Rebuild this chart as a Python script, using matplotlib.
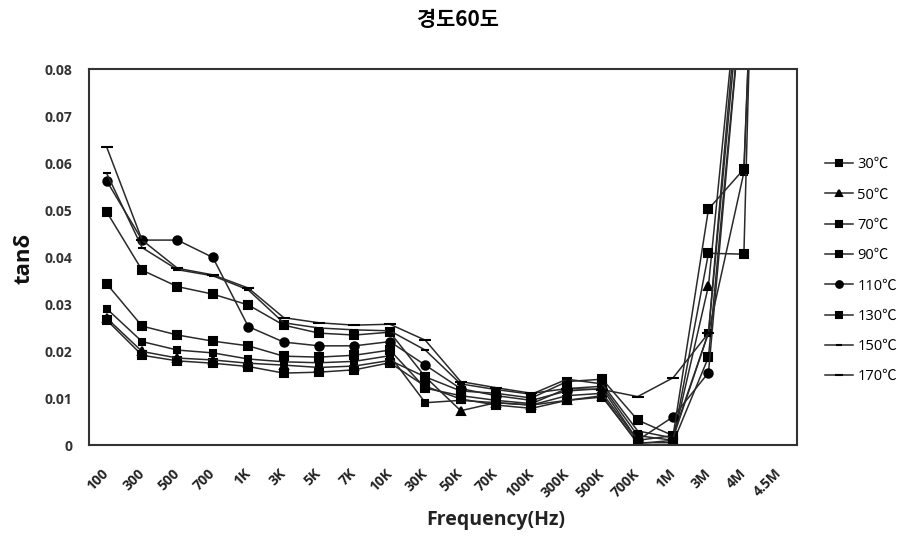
import matplotlib
matplotlib.use("Agg")
import matplotlib.pyplot as plt

plt.rcParams['font.family'] = ['Open Sans', 'Noto Sans CJK KR', 'DejaVu Sans']

freqs = ['100', '300', '500', '700', '1K', '3K', '5K', '7K', '10K', '30K',
         '50K', '70K', '100K', '300K', '500K', '700K', '1M', '3M', '4M', '4.5M']

# tan delta, one list per temperature
t30 = [0.0266, 0.0191, 0.0179, 0.0174, 0.0167, 0.0153, 0.0155, 0.0160, 0.0175, 0.0125,
       0.0098, 0.0085, 0.0078, 0.0095, 0.0102, 0.0005, 0.0005, 0.0187, 0.100, 0.30]
t50 = [0.0270, 0.0199, 0.0185, 0.0181, 0.0174, 0.0170, 0.0165, 0.0168, 0.0180, 0.0145,
       0.0073, 0.0090, 0.0085, 0.0095, 0.0105, 0.0003, 0.0010, 0.0339, 0.110, 0.30]
t70 = [0.0290, 0.0220, 0.0202, 0.0196, 0.0183, 0.0177, 0.0175, 0.0178, 0.0190, 0.0090,
       0.0095, 0.0090, 0.0085, 0.0105, 0.0110, 0.0010, 0.0020, 0.0239, 0.0580, 0.25]
t90 = [0.0343, 0.0253, 0.0234, 0.0221, 0.0211, 0.0189, 0.0187, 0.0191, 0.0202, 0.0121,
       0.0105, 0.0095, 0.0088, 0.0120, 0.0125, 0.0020, 0.0010, 0.0408, 0.0406, 0.32]
t110 = [0.0562, 0.0436, 0.0436, 0.0399, 0.0252, 0.0219, 0.0211, 0.0211, 0.0220, 0.0170,
        0.0120, 0.0105, 0.0095, 0.0115, 0.0120, 0.0010, 0.0060, 0.0154, 0.100, 0.30]
t130 = [0.0496, 0.0372, 0.0337, 0.0321, 0.0298, 0.0255, 0.0238, 0.0234, 0.0240, 0.0145,
        0.0115, 0.0110, 0.0100, 0.0135, 0.0140, 0.0053, 0.0020, 0.0502, 0.0587, 0.25]
t150 = [0.0578, 0.0420, 0.0373, 0.0360, 0.0330, 0.0260, 0.0249, 0.0245, 0.0243, 0.0202,
        0.0130, 0.0118, 0.0108, 0.0140, 0.0130, 0.0030, 0.0015, 0.0239, 0.110, 0.30]
t170 = [0.0634, 0.0436, 0.0376, 0.0362, 0.0334, 0.0271, 0.0260, 0.0255, 0.0257, 0.0223,
        0.0135, 0.0122, 0.0110, 0.0120, 0.0118, 0.0103, 0.0143, 0.0238, 0.105, 0.30]

series = [('30℃', t30, 's', 6), ('50℃', t50, '^', 6), ('70℃', t70, 's', 5),
          ('90℃', t90, 's', 6), ('110℃', t110, 'o', 6), ('130℃', t130, 's', 6),
          ('150℃', t150, '_', 6), ('170℃', t170, '_', 8)]

fig = plt.figure(figsize=(8.97, 5.37), dpi=100)
ax = fig.add_axes([0.0992, 0.1713, 0.7893, 0.7002])

x = list(range(len(freqs)))
for name, vals, mk, ms in series:
    ax.plot(x, vals, color='#2a2a2a', lw=1.1, marker=mk, markersize=ms,
            markerfacecolor='black', markeredgecolor='black', mew=1.5, label=name)

ax.set_xlim(-0.5, len(freqs) - 0.5)
ax.set_ylim(0, 0.08)
ax.set_yticks([0, 0.01, 0.02, 0.03, 0.04, 0.05, 0.06, 0.07, 0.08])
ax.set_yticklabels(['0', '0.01', '0.02', '0.03', '0.04', '0.05', '0.06', '0.07', '0.08'])
ax.set_xticks(x)
ax.set_xticklabels(freqs, rotation=45, ha='right', va='center', rotation_mode='anchor')
ax.tick_params(axis='y', length=0, pad=12, labelsize=10, labelcolor='#333333')
ax.tick_params(axis='x', length=0, pad=19, labelsize=10, labelcolor='#222222')
for lab in ax.get_xticklabels() + ax.get_yticklabels():
    lab.set_fontweight('bold')
for sp in ax.spines.values():
    sp.set_linewidth(1.5)
    sp.set_color('#333333')

fig.text(458 / 897, 1 - 20 / 537, '경도60도', ha='center', va='center',
         family=['Noto Sans CJK KR', 'DejaVu Sans'], fontsize=15, fontweight='bold')
fig.text(496 / 897, 1 - 520 / 537, 'Frequency(Hz)', ha='center', va='center',
         fontsize=14, fontweight='bold', color='#222222')
fig.text(24 / 897, 1 - 258 / 537, 'tanδ', ha='center', va='center', rotation=90,
         fontsize=16, fontweight='bold', color='#111111')

ax.legend(loc='upper left', bbox_to_anchor=(812 / 897, 1 - 144 / 537),
          bbox_transform=fig.transFigure, frameon=False, fontsize=10.5,
          handlelength=1.9, labelspacing=1.05, handletextpad=0.3, markerscale=0.8)

fig.savefig('out.png', dpi=100)
